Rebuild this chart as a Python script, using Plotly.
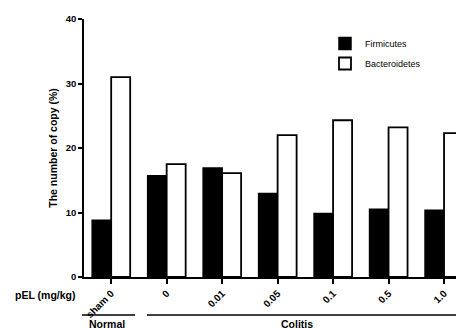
import plotly.graph_objects as go

categories = ["sham 0", "0", "0.01", "0.05", "0.1", "0.5", "1.0"]
firmicutes = [8.8, 15.7, 16.9, 12.95, 9.85, 10.5, 10.35]
bacteroidetes = [31.0, 17.5, 16.1, 22.0, 24.3, 23.2, 22.3]
y_ticks = [0, 10, 20, 30, 40]

# page body has an 8px margin: figure coords = screen coords - 8
OFF = 8
W, H = 464 - OFF, 329 - OFF
L, T = 84 - OFF, 19 - OFF
B = H - (277 - OFF)
R = 0
pw, ph = W - L - R, H - T - B

def px(x):  # x given in screen pixels
    return (x - OFF - L) / pw

def py(y):  # y given in screen pixels
    return (H - B - (y - OFF)) / ph

FONT = "Liberation Sans, Arial, sans-serif"

fig = go.Figure()
fig.add_trace(go.Bar(x=categories, y=firmicutes, name="Firmicutes",
                     marker=dict(color="black", line=dict(color="black", width=1.5)),
                     legendgroup="f"))
fig.add_trace(go.Bar(x=categories, y=bacteroidetes, name="Bacteroidetes",
                     marker=dict(color="white", line=dict(color="black", width=1.8)),
                     legendgroup="b"))

fig.update_layout(
    width=W, height=H,
    margin=dict(l=L, r=R, t=T, b=B),
    paper_bgcolor="white", plot_bgcolor="white",
    font=dict(family=FONT, color="black", size=9),
    barmode="group", bargap=0.315, bargroupgap=0,
    showlegend=True,
    legend=dict(x=px(325), y=py(29), xanchor="left", yanchor="top",
                font=dict(size=9, family=FONT), tracegroupgap=1,
                bgcolor="rgba(0,0,0,0)"),
)
fig.update_xaxes(
    type="category", range=[-0.49, 6.36],
    showline=True, linecolor="black", linewidth=1.5,
    ticks="outside", ticklen=5, tickcolor="black", tickwidth=1.5,
    tickangle=-45,
    tickmode="array", tickvals=categories,
    ticktext=["<b>%s</b>" % c for c in categories],
    tickfont=dict(size=10, family=FONT),
    showgrid=False, zeroline=False,
)
fig.update_yaxes(
    range=[0, 40],
    showline=True, linecolor="black", linewidth=1.5,
    ticks="outside", ticklen=4, tickcolor="black", tickwidth=1.5,
    tickmode="array", tickvals=y_ticks,
    ticktext=["<b>%d</b>" % v for v in y_ticks],
    tickfont=dict(size=9.5, family=FONT),
    showgrid=False, zeroline=False,
    title=dict(text="<b>The number of copy (%)</b>", font=dict(size=10.5, family=FONT), standoff=6),
)

for text, x, y in [("<b>pEL (mg/kg)</b>", 45, 295),
                   ("<b>Normal</b>", 107, 324),
                   ("<b>Colitis</b>", 297, 324)]:
    fig.add_annotation(x=px(x), y=py(y), xref="paper", yref="paper",
                       xanchor="center", yanchor="middle",
                       text=text, showarrow=False,
                       font=dict(size=10.5, family=FONT))
fig.add_shape(type="line", xref="paper", yref="paper",
              x0=px(82), x1=px(135), y0=py(315), y1=py(315),
              line=dict(color="black", width=1.5))
fig.add_shape(type="line", xref="paper", yref="paper",
              x0=px(147), x1=px(464), y0=py(315), y1=py(315),
              line=dict(color="black", width=1.5))

fig.write_html("out.html")
